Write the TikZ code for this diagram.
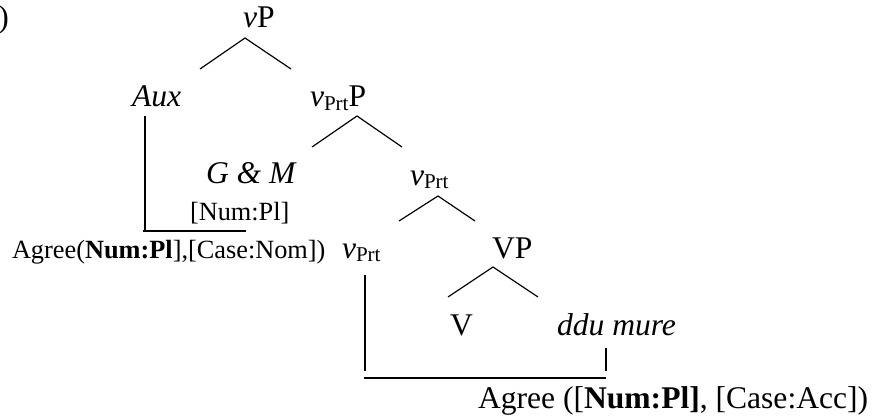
\documentclass[tikz,border=0pt]{standalone}
\usepackage{fontspec}
\setmainfont{Liberation Serif}
\newcommand{\prtsub}{\raisebox{-1.3pt}{\fontsize{8}{9}\selectfont Prt}}
\begin{document}
\begin{tikzpicture}[x=0.38pt,y=-0.38pt,
  lbl/.style={anchor=base west, inner sep=0pt, outer sep=0pt, font=\fontsize{12}{14}\selectfont},
  sm/.style={anchor=base west, inner sep=0pt, outer sep=0pt, font=\fontsize{10}{12}\selectfont},
  branch/.style={line width=0.45pt},
  link/.style={line width=0.75pt}]
\useasboundingbox (0,0) rectangle (874,416);
% labels
\node[lbl, anchor=base east] (ex) at (9,28) {)};
\node[lbl] (vP) at (243,28) {\textit{v}P};
\node[lbl] (aux) at (132,107) {\textit{Aux}};
\node[lbl] (vprtP) at (310,107) {\textit{v}\prtsub P};
\node[lbl] (gm) at (206,183) {\textit{G \& M}};
\node[sm] (numpl) at (190,220) {[Num:Pl]};
\node[lbl] (vprt1) at (410,185) {\textit{v}\prtsub};
\node[sm] (agree1) at (12,258) {Agree(\textbf{Num:Pl}],[Case:Nom])};
\node[lbl] (vprt2) at (342,258) {\textit{v}\prtsub};
\node[lbl] (VP) at (492,258) {VP};
\node[lbl] (V) at (450,335) {V};
\node[lbl] (ddu) at (557,335) {\textit{ddu mure}};
\node[lbl] (agree2) at (478,408) {Agree ([\textbf{Num:Pl]}, [Case:Acc])};
% branch points
\coordinate (a1) at (245,38);  \coordinate (a1l) at (200,69);  \coordinate (a1r) at (291,69);
\coordinate (a2) at (357,116); \coordinate (a2l) at (312,147); \coordinate (a2r) at (402,147);
\coordinate (a3) at (438,196); \coordinate (a3l) at (399,221); \coordinate (a3r) at (475,221);
\coordinate (a4) at (493,267); \coordinate (a4l) at (448,297); \coordinate (a4r) at (538,297);
\draw[branch] (a1l) -- (a1) -- (a1r);
\draw[branch] (a2l) -- (a2) -- (a2r);
\draw[branch] (a3l) -- (a3) -- (a3r);
\draw[branch] (a4l) -- (a4) -- (a4r);
% agree links
\coordinate (k1) at (145,116); \coordinate (k1b) at (145,231); \coordinate (k1e) at (246,231); \coordinate (k1s) at (143,231);
\draw[link] (k1) -- (k1b);
\draw[branch] (k1s) -- (k1e);
\coordinate (k2) at (365,275); \coordinate (k2b) at (365,371);
\coordinate (k3) at (606,348); \coordinate (k3b) at (606,371);
\coordinate (h2l) at (364,378); \coordinate (h2r) at (606,378);
\draw[link] (k2) -- (k2b);
\draw[link] (k3) -- (k3b);
\draw[branch] (h2l) -- (h2r);
\end{tikzpicture}
\end{document}
